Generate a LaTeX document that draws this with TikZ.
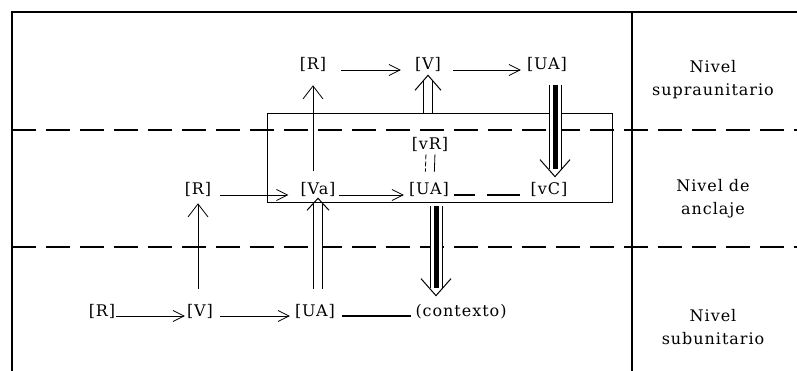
\documentclass[tikz,border=0pt]{standalone}
\usepackage{fontspec}
\setmainfont{DejaVu Serif}[LetterSpace=6]
\usetikzlibrary{calc}
\usetikzlibrary{arrows.meta}

\begin{document}
\begin{tikzpicture}[x=1pt,y=-1pt,
  >={Straight Barb[length=11pt,width=11pt]},
  every node/.style={font=\fontsize{16}{23}\selectfont, inner sep=0pt, anchor=base},
  level/.style={align=center, anchor=center},
  flow/.style={->, line width=0.8pt},
  hollow/.style={double, double distance=8pt, line width=1pt},
  heavy/.style={double, double distance=11pt, line width=1pt},
  split/.style={line width=1.6pt, dash pattern=on 24pt off 10pt}]

  \useasboundingbox (0,0) rectangle (797,371);

  % Frame and levels
  \draw[line width=2pt] (12,371) -- (12,12) -- (797,12);
  \draw[line width=2pt] (632,12) -- (632,371);
  \draw[split] (12,130) -- (797,130);
  \draw[split] (12,247) -- (797,247);

  % Anchoring box
  \node[draw, line width=0.8pt, anchor=north west, minimum width=345pt, minimum height=89pt] (box) at (267,113) {};

  % Level names
  \node[level] (supra) at (713,80) {Nivel\\supraunitario};
  \node[level] (anclaje) at (713,199) {Nivel de\\anclaje};
  \node[level] (sub) at (713,327) {Nivel\\subunitario};

  % Upper level
  \node (R1) at (313,70) {[R]};
  \node (V1) at (428,70) {[V]};
  \node (UA1) at (547,70) {[UA]};

  % Anchoring level
  \node (vR) at (430,150) {[vR]};
  \node (R2) at (198,195) {[R]};
  \node (Va) at (318,195) {[Va]};
  \node (UA2) at (429,195) {[UA]};
  \node (vC) at (549,195) {[vC]};

  % Lower level
  \node (R3) at (102,316) {[R]};
  \node (V3) at (200,316) {[V]};
  \node (UA3) at (315,316) {[UA]};
  \node (ctx) at (461,316) {(contexto)};

  % Horizontal links
  \draw[flow, shorten <=15pt, shorten >=14pt] (R1.base east) -- (V1.base west);
  \draw[flow, shorten <=12pt, shorten >=6pt] (V1.base east) -- (UA1.base west);
  \draw[flow, shorten <=9pt, shorten >=12pt] (R2.base east) -- (Va.base west);
  \draw[flow, shorten <=3pt, shorten >=5pt] (Va.base east) -- (UA2.base west);
  \draw[line width=1.5pt, dash pattern=on 21pt off 12pt on 40pt, shorten <=5pt, shorten >=10pt] (UA2.base east) -- (vC.base west);
  \draw[flow, shorten <=1pt, shorten >=2pt] (R3.base east) -- (V3.base west);
  \draw[flow, shorten <=7pt, shorten >=5pt] (V3.base east) -- (UA3.base west);
  \draw[line width=1.5pt, shorten <=7pt, shorten >=4pt] (UA3.base east) -- (ctx.base west);
  \draw[line width=0.8pt, dash pattern=on 5pt off 2pt, shorten <=2pt, shorten >=11pt] ([xshift=-4pt]vR.south) -- ([xshift=-4pt]UA2.north);
  \draw[line width=0.8pt, shorten <=2pt, shorten >=11pt] ([xshift=5pt]vR.south) -- ([xshift=5pt]UA2.north);

  % Thin vertical links
  \draw[->, line width=0.8pt, >={Straight Barb[length=13pt,width=20pt]}, shorten <=12pt, shorten >=13pt] (Va.north -| R1) -- (R1.south);
  \draw[->, line width=0.8pt, >={Straight Barb[length=13pt,width=20pt]}, shorten <=15pt, shorten >=6pt] (V3.north -| R2) -- (R2.south);

  % Hollow links
  \coordinate (tipVa) at ($(Va.south)+(0,1)$);
  \draw[hollow] (UA3.north -| Va) ++(0,-15) -- ($(tipVa)+(0,6)$);
  \draw[line width=1pt] ($(tipVa)+(-11,12)$) -- (tipVa) -- ++(11,12);
  \coordinate (tipV) at ($(V1.south)+(0,3)$);
  \draw[hollow] (box.north -| V1) -- ($(tipV)+(0,6)$);
  \draw[line width=1pt] ($(tipV)+(-13,15)$) -- (tipV) -- ++(13,15);

  % Heavy links
  \coordinate (tipC) at ($(vC.north)+(6,-6)$);
  \draw[heavy] ($(UA1.south)+(8,13)$) -- ($(tipC)+(0,-8)$);
  \draw[line width=5pt] ($(UA1.south)+(8,13)$) -- ($(tipC)+(0,-8)$);
  \draw[line width=1pt] ($(tipC)+(-15,-17)$) -- (tipC) -- ++(15,-17);
  \coordinate (tipX) at ($(ctx.north -| UA2)+(7,-8)$);
  \draw[heavy] ($(box.south -| UA2)+(7,3)$) -- ($(tipX)+(0,-8)$);
  \draw[line width=5pt] ($(box.south -| UA2)+(7,3)$) -- ($(tipX)+(0,-8)$);
  \draw[line width=1pt] ($(tipX)+(-15,-17)$) -- (tipX) -- ++(15,-17);
\end{tikzpicture}
\end{document}
